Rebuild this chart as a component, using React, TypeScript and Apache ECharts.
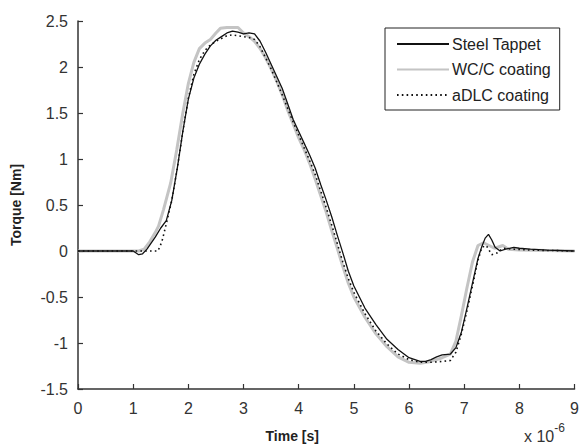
import React, { useEffect, useRef } from "react";
import * as echarts from "echarts";

const seriesNames = ["Steel Tappet", "WC/C coating", "aDLC coating"];

const steelT = [0, 0.5, 1.0, 1.1, 1.17, 1.25, 1.4, 1.5, 1.6, 1.7, 1.8, 1.9, 2.0, 2.1, 2.2, 2.3, 2.4, 2.5, 2.6, 2.7, 2.8, 2.9, 3.0, 3.1, 3.2, 3.3, 3.4, 3.5, 3.6, 3.7, 3.8, 3.9, 4.0, 4.1, 4.2, 4.3, 4.4, 4.5, 4.6, 4.7, 4.8, 4.9, 5.0, 5.2, 5.4, 5.6, 5.8, 6.0, 6.2, 6.3, 6.4, 6.5, 6.6, 6.75, 6.85, 6.95, 7.05, 7.15, 7.25, 7.32, 7.38, 7.44, 7.5, 7.56, 7.65, 7.75, 7.9, 8.0, 8.2, 8.5, 9.0];
const steelV = [0, 0, 0, -0.04, -0.03, 0.02, 0.15, 0.25, 0.33, 0.55, 0.9, 1.3, 1.65, 1.88, 2.03, 2.14, 2.23, 2.29, 2.33, 2.37, 2.39, 2.38, 2.36, 2.37, 2.36, 2.28, 2.16, 2.03, 1.9, 1.77, 1.6, 1.43, 1.3, 1.17, 1.04, 0.9, 0.72, 0.55, 0.37, 0.17, -0.02, -0.22, -0.38, -0.62, -0.8, -0.96, -1.07, -1.16, -1.2, -1.2, -1.18, -1.15, -1.13, -1.12, -1.05, -0.88, -0.62, -0.35, -0.08, 0.05, 0.14, 0.18, 0.12, 0.04, 0.0, 0.02, 0.04, 0.03, 0.02, 0.01, 0.0];

const wccT = [0, 1.0, 1.1, 1.2, 1.3, 1.4, 1.46, 1.55, 1.68, 1.79, 1.9, 2.0, 2.1, 2.2, 2.3, 2.4, 2.5, 2.58, 2.7, 2.9, 3.0, 3.1, 3.2, 3.3, 3.4, 3.5, 3.6, 3.7, 3.8, 3.9, 4.0, 4.1, 4.2, 4.3, 4.4, 4.5, 4.6, 4.7, 4.8, 4.9, 5.0, 5.2, 5.4, 5.6, 5.8, 6.0, 6.2, 6.4, 6.6, 6.75, 6.85, 6.95, 7.05, 7.15, 7.25, 7.35, 7.45, 7.55, 7.7, 7.8, 8.0, 9.0];
const wccV = [0, 0, 0, 0.02, 0.1, 0.2, 0.27, 0.45, 0.74, 1.1, 1.5, 1.82, 2.05, 2.2, 2.26, 2.3, 2.37, 2.42, 2.43, 2.43, 2.37, 2.33, 2.28, 2.2, 2.1, 1.98, 1.85, 1.7, 1.53, 1.38, 1.23, 1.1, 0.95, 0.78, 0.6, 0.42, 0.22, 0.03, -0.17, -0.35, -0.5, -0.72, -0.9, -1.04, -1.15, -1.21, -1.22, -1.2, -1.16, -1.12, -0.98, -0.7, -0.4, -0.12, 0.06, 0.09, 0.06, 0.03, 0.06, 0.02, 0.01, 0.0];

const adlcT = [0, 1.0, 1.2, 1.35, 1.45, 1.52, 1.59, 1.7, 1.8, 1.9, 2.0, 2.1, 2.2, 2.3, 2.4, 2.5, 2.6, 2.7, 2.8, 2.9, 3.0, 3.1, 3.2, 3.3, 3.4, 3.5, 3.6, 3.7, 3.8, 3.9, 4.0, 4.1, 4.2, 4.3, 4.4, 4.5, 4.6, 4.7, 4.8, 4.9, 5.0, 5.2, 5.4, 5.6, 5.8, 6.0, 6.2, 6.4, 6.6, 6.75, 6.85, 6.95, 7.05, 7.15, 7.25, 7.32, 7.4, 7.5, 7.6, 7.7, 7.9, 8.2, 9.0];
const adlcV = [0, 0, 0, 0, 0, 0.1, 0.27, 0.55, 0.9, 1.3, 1.66, 1.92, 2.08, 2.18, 2.24, 2.28, 2.31, 2.34, 2.35, 2.34, 2.33, 2.32, 2.3, 2.22, 2.1, 1.98, 1.84, 1.7, 1.55, 1.4, 1.26, 1.12, 0.98, 0.83, 0.65, 0.47, 0.28, 0.08, -0.12, -0.3, -0.45, -0.68, -0.87, -1.01, -1.12, -1.18, -1.21, -1.21, -1.2, -1.19, -1.1, -0.9, -0.65, -0.38, -0.1, 0.04, 0.06, -0.04, -0.02, 0.03, 0.02, 0.01, 0.0];

const xTitle = "Time [s]";
const yTitle = "Torque [Nm]";

const pairs = (t: number[], v: number[]) => t.map((x, i) => [x, v[i]]);

export default function App() {
  const ref = useRef<HTMLDivElement>(null);
  useEffect(() => {
    if (!ref.current) return;
    const chart = echarts.init(ref.current, null, { renderer: "svg" });
    const font = "Liberation Sans, Arial, sans-serif";
    chart.setOption({
      animation: false,
      backgroundColor: "#ffffff",
      textStyle: { fontFamily: font },
      grid: { left: 78, right: 0, top: 21, bottom: 57, containLabel: false },
      legend: {
        orient: "vertical",
        left: 385,
        top: 28,
        padding: [8, 9, 7, 11],
        itemWidth: 52,
        itemHeight: 14,
        itemGap: 9.5,
        backgroundColor: "#ffffff",
        borderColor: "#222",
        borderWidth: 1,
        itemStyle: { opacity: 0, borderWidth: 0 },
        textStyle: { fontSize: 16, color: "#222", fontFamily: font, padding: [0, 0, 0, -2] },
        data: seriesNames,
      },
      xAxis: {
        type: "value",
        min: 0,
        max: 9,
        interval: 1,
        name: xTitle,
        nameLocation: "middle",
        nameGap: 40,
        nameTextStyle: { fontSize: 14, fontWeight: "bold", color: "#222", padding: [0, 68, 0, 0] },
        axisLine: { show: true, onZero: false, lineStyle: { color: "#333", width: 1.5 } },
        axisTick: { show: true, inside: true, length: 5, lineStyle: { color: "#333", width: 1.2 } },
        axisLabel: { fontSize: 16, color: "#333", margin: 11 },
        splitLine: { show: false },
      },
      yAxis: {
        type: "value",
        min: -1.5,
        max: 2.5,
        interval: 0.5,
        name: yTitle,
        nameLocation: "middle",
        nameGap: 55,
        nameRotate: 90,
        nameTextStyle: { fontSize: 14, fontWeight: "bold", color: "#222" },
        axisLine: { show: true, onZero: false, lineStyle: { color: "#333", width: 1.5 } },
        axisTick: { show: true, inside: true, length: 5, lineStyle: { color: "#333", width: 1.2 } },
        axisLabel: { fontSize: 16, color: "#333", margin: 10 },
        splitLine: { show: false },
      },
      graphic: [
        {
          type: "text",
          left: 524,
          top: 422,
          style: {
            text: "{a|x 10}{b|-6}",
            rich: {
              a: { fontSize: 16, fill: "#333", fontFamily: font, padding: [9, 0, 0, 0] },
              b: { fontSize: 12, fill: "#333", fontFamily: font, padding: [0, 0, 8, 0] },
            },
          },
        },
      ],
      series: [
        {
          name: seriesNames[0],
          type: "line",
          data: pairs(steelT, steelV),
          showSymbol: false,
          symbol: "none",
          z: 3,
          lineStyle: { color: "#111", width: 1.3 },
          itemStyle: { color: "#111" },
        },
        {
          name: seriesNames[1],
          type: "line",
          data: pairs(wccT, wccV),
          showSymbol: false,
          symbol: "none",
          z: 2,
          lineStyle: { color: "#c4c4c4", width: 3 },
          itemStyle: { color: "#c4c4c4" },
        },
        {
          name: seriesNames[2],
          type: "line",
          data: pairs(adlcT, adlcV),
          showSymbol: false,
          symbol: "none",
          z: 4,
          lineStyle: { color: "#111", width: 1.6, type: [1.6, 3.2] },
          itemStyle: { color: "#111" },
        },
      ],
    });
    return () => chart.dispose();
  }, []);
  return (
    <div
      ref={ref}
      style={{ position: "fixed", left: 0, top: 0, width: 582, height: 448, background: "#fff" }}
    />
  );
}
